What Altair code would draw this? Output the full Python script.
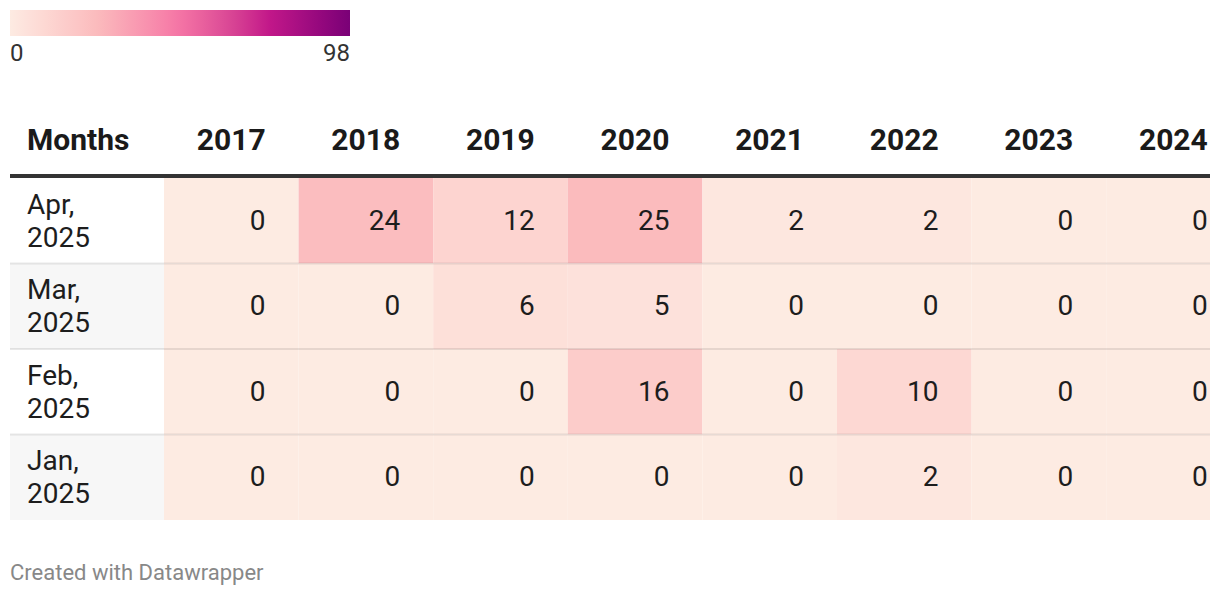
import altair as alt
import pandas as pd

# ---------------- data ----------------
months = ["Apr, 2025", "Mar, 2025", "Feb, 2025", "Jan, 2025"]
years = ["2017", "2018", "2019", "2020", "2021", "2022", "2023", "2024"]
apr = [0, 24, 12, 25, 2, 2, 0, 0]
mar = [0, 0, 6, 5, 0, 0, 0, 0]
feb = [0, 0, 0, 16, 0, 10, 0, 0]
jan = [0, 0, 0, 0, 0, 2, 0, 0]
row_values = [apr, mar, feb, jan]
first_header = "Months"
legend_min = 0
legend_max = 98
footer = "Created with Datawrapper"

# ---------------- layout (units: one year column = 1, one row = 1) ----------------
COL_PX = 134.6
ROW_PX = 85.5
PLOT_W = 1200
PLOT_H = ROW_PX * len(months)
LABEL_W = 154 / COL_PX
X_MIN = -LABEL_W
X_MAX = PLOT_W / COL_PX - LABEL_W
HEADER_Y = -37 / ROW_PX
RULE_H = 4 / ROW_PX
TOP_PAD = 170

cell_rows, label_rows = [], []
for r, (m, vals) in enumerate(zip(months, row_values)):
    label_rows.append({"x0": X_MIN, "x1": 0, "yt": r, "yb": r + 1, "yc": r + 0.5,
                       "label": m.replace(", ", ",\n"),
                       "bg": "#f7f7f7" if r % 2 == 1 else "#ffffff"})
    for i, (yr, v) in enumerate(zip(years, vals)):
        cell_rows.append({"year": yr, "month": m, "value": v, "x0": i, "x1": i + 1,
                          "yt": r, "yb": r + 1, "yc": r + 0.5})
cells = pd.DataFrame(cell_rows)
labels = pd.DataFrame(label_rows)
head_years = pd.DataFrame({"text": years, "xr": [i + 1 for i in range(len(years))],
                           "y": HEADER_Y})
head_first = pd.DataFrame({"text": [first_header], "x": [X_MIN], "y": [HEADER_Y]})
seps = pd.DataFrame({"y": [r + 1 for r in range(len(months) - 1)],
                     "x0": X_MIN, "x1": X_MAX})
hrule = pd.DataFrame({"x0": [X_MIN], "x1": [X_MAX], "y0": [-RULE_H], "y1": [0]})

xs = alt.Scale(domain=[X_MIN, X_MAX], nice=False, zero=False)
ys = alt.Scale(domain=[0, len(months)], nice=False, zero=False, reverse=True)

step = (legend_max - legend_min) / 4
cscale = alt.Scale(
    domain=[legend_min + k * step for k in range(5)],
    range=["#fdebe2", "#fbbcbe", "#f574a5", "#c6198a", "#7a0177"],
    interpolate="lab",
)
legend = alt.Legend(
    orient="none", legendX=0, legendY=10 - 8 - TOP_PAD, direction="horizontal",
    gradientLength=340, gradientThickness=26, title=None,
    values=[legend_min, legend_max], labelFontSize=24, labelFont="Roboto",
    labelColor="#333333", labelOffset=6, gradientStrokeWidth=0,
)

bg = alt.Chart(labels).mark_rect().encode(
    x=alt.X("x0:Q", scale=xs, axis=None), x2="x1:Q",
    y=alt.Y("yt:Q", scale=ys, axis=None), y2="yb:Q",
    fill=alt.Fill("bg:N", scale=None),
)
rects = alt.Chart(cells).mark_rect(clip=True).encode(
    x=alt.X("x0:Q", scale=xs, axis=None), x2="x1:Q",
    y=alt.Y("yt:Q", scale=ys, axis=None), y2="yb:Q",
    color=alt.Color("value:Q", scale=cscale, legend=legend),
)
sep = alt.Chart(seps).mark_rule(color="#000000", opacity=0.09, strokeWidth=2).encode(
    x=alt.X("x0:Q", scale=xs, axis=None), x2="x1:Q",
    y=alt.Y("y:Q", scale=ys, axis=None),
)
rule = alt.Chart(hrule).mark_rect(color="#333333").encode(
    x=alt.X("x0:Q", scale=xs, axis=None), x2="x1:Q",
    y=alt.Y("y0:Q", scale=ys, axis=None), y2="y1:Q",
)
vals_txt = alt.Chart(cells).mark_text(
    align="right", baseline="middle", dx=-33, dy=1, font="Roboto", fontSize=28,
    color="#1d1d1d"
).encode(
    x=alt.X("x1:Q", scale=xs, axis=None),
    y=alt.Y("yc:Q", scale=ys, axis=None),
    text="value:Q",
)
lab_txt = alt.Chart(labels).mark_text(
    align="left", baseline="middle", dx=17, dy=-15, font="Roboto", fontSize=28,
    color="#1d1d1d", lineBreak="\n", lineHeight=33,
).encode(
    x=alt.X("x0:Q", scale=xs, axis=None),
    y=alt.Y("yc:Q", scale=ys, axis=None),
    text="label:N",
)
hy_txt = alt.Chart(head_years).mark_text(
    align="right", baseline="middle", dx=-33, font="Roboto", fontSize=30,
    fontWeight="bold", color="#1a1a1a",
).encode(
    x=alt.X("xr:Q", scale=xs, axis=None),
    y=alt.Y("y:Q", scale=ys, axis=None),
    text="text:N",
)
hf_txt = alt.Chart(head_first).mark_text(
    align="left", baseline="middle", dx=17, font="Roboto", fontSize=30,
    fontWeight="bold", color="#1a1a1a",
).encode(
    x=alt.X("x:Q", scale=xs, axis=None),
    y=alt.Y("y:Q", scale=ys, axis=None),
    text="text:N",
)

chart = alt.layer(bg, rects, sep, rule, vals_txt, lab_txt, hy_txt, hf_txt).properties(
    width=PLOT_W, height=PLOT_H,
    autosize=alt.AutoSizeParams(type="none"),
    padding={"left": 2, "top": TOP_PAD, "right": 0, "bottom": 70},
    background="#ffffff",
    title=alt.TitleParams(
        footer, orient="bottom", anchor="start", frame="group", offset=53,
        fontSize=22, font="Roboto", color="#888888", fontWeight="normal",
        baseline="middle",
    ),
).configure_view(stroke=None)

chart.save("out.html", embed_options={"renderer": "svg", "actions": False})
